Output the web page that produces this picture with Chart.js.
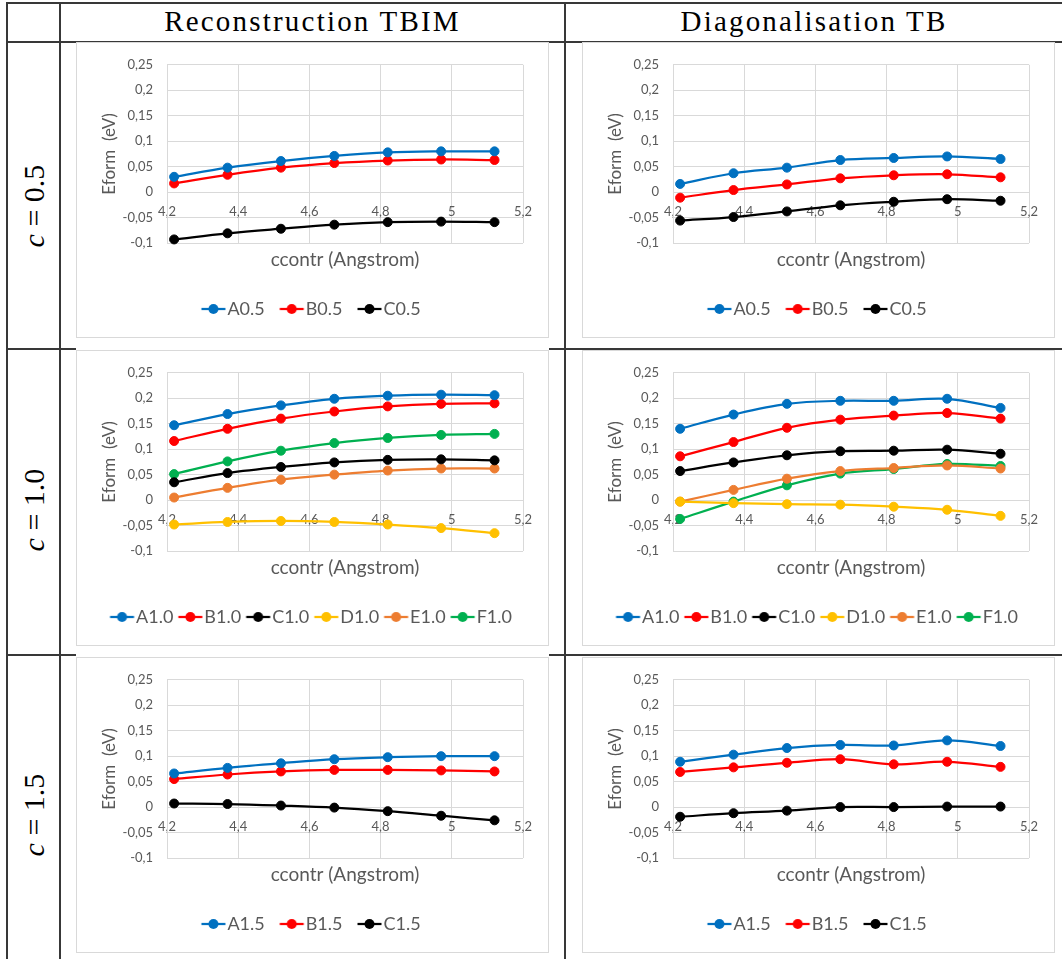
<!DOCTYPE html>
<html>
<head>
<meta charset="utf-8">
<script src="https://cdn.jsdelivr.net/npm/chart.js@4.4.0/dist/chart.umd.min.js"></script>
<style>
  body { margin: 0; background: #fff; width: 1062px; height: 959px; position: relative; overflow: hidden; }
  .ln { position: absolute; background: #383838; }
  .hd { position: absolute; top: 2px; height: 39px; line-height: 39px; text-align: center;
        font-family: "Liberation Serif", serif; font-size: 29px; letter-spacing: 2.2px; color: #000; }
  .rl { position: absolute; left: 34px; transform: translate(-50%, -50%) rotate(-90deg);
        white-space: nowrap; font-family: "Liberation Serif", serif; font-size: 30px; color: #000; }
  .box { position: absolute; width: 471px; height: 294px; border: 1px solid #D9D9D9; background: #fff; }
</style>
</head>
<body>
<!-- table rules -->
<div class="ln" style="left:6px;top:2px;width:1056px;height:2px"></div>
<div class="ln" style="left:6px;top:41px;width:1056px;height:2px"></div>
<div class="ln" style="left:6px;top:348px;width:1056px;height:2px"></div>
<div class="ln" style="left:6px;top:654px;width:1056px;height:2px"></div>
<div class="ln" style="left:6px;top:2px;width:2px;height:957px"></div>
<div class="ln" style="left:59px;top:2px;width:2px;height:957px"></div>
<div class="ln" style="left:564px;top:2px;width:2px;height:957px"></div>
<!-- white cover where the left-column chart images hide the rules -->
<div style="position:absolute;left:76px;top:338px;width:473px;height:12px;background:#fff"></div>
<div style="position:absolute;left:76px;top:646px;width:473px;height:11px;background:#fff"></div>

<div class="hd" style="left:61px;width:503px">Reconstruction TBIM</div>
<div class="hd" style="left:566px;width:496px">Diagonalisation TB</div>

<div class="rl" style="top:206px"><i>c</i>&nbsp;=&nbsp;0.5</div>
<div class="rl" style="top:510px"><i>c</i>&nbsp;=&nbsp;1.0</div>
<div class="rl" style="top:815px"><i>c</i>&nbsp;=&nbsp;1.5</div>

<div class="box" style="left:76px;top:42px"><canvas id="c1"></canvas></div>
<div class="box" style="left:582px;top:42px"><canvas id="c2"></canvas></div>
<div class="box" style="left:76px;top:350px"><canvas id="c3"></canvas></div>
<div class="box" style="left:582px;top:350px"><canvas id="c4"></canvas></div>
<div class="box" style="left:76px;top:657px"><canvas id="c5"></canvas></div>
<div class="box" style="left:582px;top:657px"><canvas id="c6"></canvas></div>

<script>
// x positions (ccontr, Angstrom)
var xValues = [4.22, 4.37, 4.52, 4.67, 4.82, 4.97, 5.12];

// c = 0.5, reconstruction TBIM
var tbim05A = [0.030, 0.048, 0.061, 0.071, 0.078, 0.080, 0.080];
var tbim05B = [0.017, 0.034, 0.048, 0.057, 0.062, 0.064, 0.063];
var tbim05C = [-0.093, -0.081, -0.072, -0.064, -0.059, -0.058, -0.059];
// c = 0.5, diagonalisation TB
var tb05A = [0.016, 0.037, 0.048, 0.063, 0.067, 0.070, 0.065];
var tb05B = [-0.011, 0.004, 0.015, 0.027, 0.033, 0.035, 0.029];
var tb05C = [-0.056, -0.049, -0.038, -0.026, -0.019, -0.014, -0.017];

// c = 1.0, reconstruction TBIM
var tbim10A = [0.147, 0.169, 0.186, 0.199, 0.205, 0.207, 0.206];
var tbim10B = [0.116, 0.140, 0.160, 0.174, 0.184, 0.189, 0.190];
var tbim10C = [0.035, 0.053, 0.065, 0.074, 0.079, 0.080, 0.078];
var tbim10D = [-0.048, -0.043, -0.041, -0.043, -0.048, -0.055, -0.065];
var tbim10E = [0.005, 0.024, 0.040, 0.050, 0.058, 0.062, 0.062];
var tbim10F = [0.051, 0.076, 0.097, 0.112, 0.122, 0.128, 0.130];
// c = 1.0, diagonalisation TB
var tb10A = [0.140, 0.168, 0.189, 0.195, 0.195, 0.199, 0.181];
var tb10B = [0.086, 0.114, 0.142, 0.158, 0.166, 0.171, 0.160];
var tb10C = [0.057, 0.074, 0.088, 0.096, 0.097, 0.099, 0.091];
var tb10D = [-0.003, -0.006, -0.008, -0.009, -0.013, -0.019, -0.031];
var tb10E = [-0.003, 0.020, 0.042, 0.057, 0.063, 0.068, 0.062];
var tb10F = [-0.037, -0.003, 0.029, 0.052, 0.061, 0.071, 0.067];

// c = 1.5, reconstruction TBIM
var tbim15A = [0.066, 0.077, 0.086, 0.094, 0.098, 0.100, 0.100];
var tbim15B = [0.055, 0.064, 0.070, 0.073, 0.073, 0.072, 0.070];
var tbim15C = [0.007, 0.006, 0.003, -0.001, -0.008, -0.017, -0.026];
// c = 1.5, diagonalisation TB
var tb15A = [0.089, 0.103, 0.116, 0.122, 0.121, 0.131, 0.120];
var tb15B = [0.069, 0.078, 0.087, 0.094, 0.084, 0.089, 0.079];
var tb15C = [-0.019, -0.012, -0.007, 0.000, 0.000, 0.001, 0.001];

var seriesColors = ['#0070C0', '#FF0000', '#000000', '#FFC000', '#ED7D31', '#00B050'];
var seriesLetters = ['A', 'B', 'C', 'D', 'E', 'F'];

Chart.defaults.font.family = 'Lato';
Chart.defaults.color = '#595959';

function fmt(v) {
  return String(Math.round(v * 100) / 100).replace('.', ',');
}

// legend symbol: line with a round marker, like the spreadsheet legend
function legendIcon(color) {
  var c = document.createElement('canvas');
  c.width = 40; c.height = 14;
  var g = c.getContext('2d');
  g.strokeStyle = color;
  g.lineWidth = 2.25;
  g.beginPath(); g.moveTo(11.5, 7); g.lineTo(35.5, 7); g.stroke();
  g.fillStyle = color;
  g.beginPath(); g.arc(23.5, 7, 5, 0, Math.PI * 2); g.fill();
  return c;
}
var icons = seriesColors.map(legendIcon);

function makeChart(id, suffix, series) {
  var datasets = series.map(function (vals, i) {
    return {
      label: seriesLetters[i] + suffix,
      data: xValues.map(function (x, j) { return { x: x, y: vals[j] }; }),
      borderColor: seriesColors[i],
      backgroundColor: seriesColors[i],
      borderWidth: 2.25,
      pointRadius: 4.5,
      pointBorderWidth: 1,
      pointHoverRadius: 4.5,
      tension: 0.35,
      clip: false
    };
  });
  // six-entry legends are packed tighter so they stay on one row
  var gap = series.length > 3 ? 5 : 15;

  return new Chart(document.getElementById(id), {
    type: 'line',
    data: { datasets: datasets },
    options: {
      responsive: true,
      maintainAspectRatio: false,
      animation: false,
      layout: { padding: { left: 22, right: 25, top: 17, bottom: 9 } },
      scales: {
        x: {
          type: 'linear',
          position: { y: 0 },
          min: 4.2, max: 5.2,
          ticks: { stepSize: 0.2, padding: 12, maxRotation: 0, color: '#595959',
                   font: { size: 13 }, callback: fmt },
          grid: { color: '#D9D9D9', drawTicks: false },
          border: { color: '#D9D9D9' }
        },
        y: {
          min: -0.1, max: 0.25,
          ticks: { stepSize: 0.05, padding: 14, color: '#595959',
                   font: { size: 13 }, callback: fmt },
          grid: { color: '#D9D9D9', drawTicks: false },
          border: { color: '#D9D9D9' },
          title: { display: true, text: 'Eform  (eV)', color: '#595959',
                   font: { size: 17 }, padding: { top: 0, bottom: 0 } },
          afterFit: function (s) { s.width = 68; }
        }
      },
      plugins: {
        legend: {
          position: 'bottom',
          labels: {
            usePointStyle: true,
            pointStyleWidth: 17,
            padding: gap,
            color: '#595959',
            font: { size: 18 },
            generateLabels: function (chart) {
              var items = Chart.defaults.plugins.legend.labels.generateLabels(chart);
              items.forEach(function (it) { it.pointStyle = icons[it.datasetIndex]; });
              return items;
            }
          }
        },
        title: {
          display: true,
          position: 'bottom',
          fullSize: false,
          weight: 100,
          text: 'ccontr (Angstrom)',
          color: '#595959',
          font: { size: 19, weight: 'normal' },
          padding: { top: 5, bottom: 29.2 - gap }
        },
        tooltip: { enabled: false }
      }
    }
  });
}

makeChart('c1', '0.5', [tbim05A, tbim05B, tbim05C]);
makeChart('c2', '0.5', [tb05A, tb05B, tb05C]);
makeChart('c3', '1.0', [tbim10A, tbim10B, tbim10C, tbim10D, tbim10E, tbim10F]);
makeChart('c4', '1.0', [tb10A, tb10B, tb10C, tb10D, tb10E, tb10F]);
makeChart('c5', '1.5', [tbim15A, tbim15B, tbim15C]);
makeChart('c6', '1.5', [tb15A, tb15B, tb15C]);
</script>
</body>
</html>
